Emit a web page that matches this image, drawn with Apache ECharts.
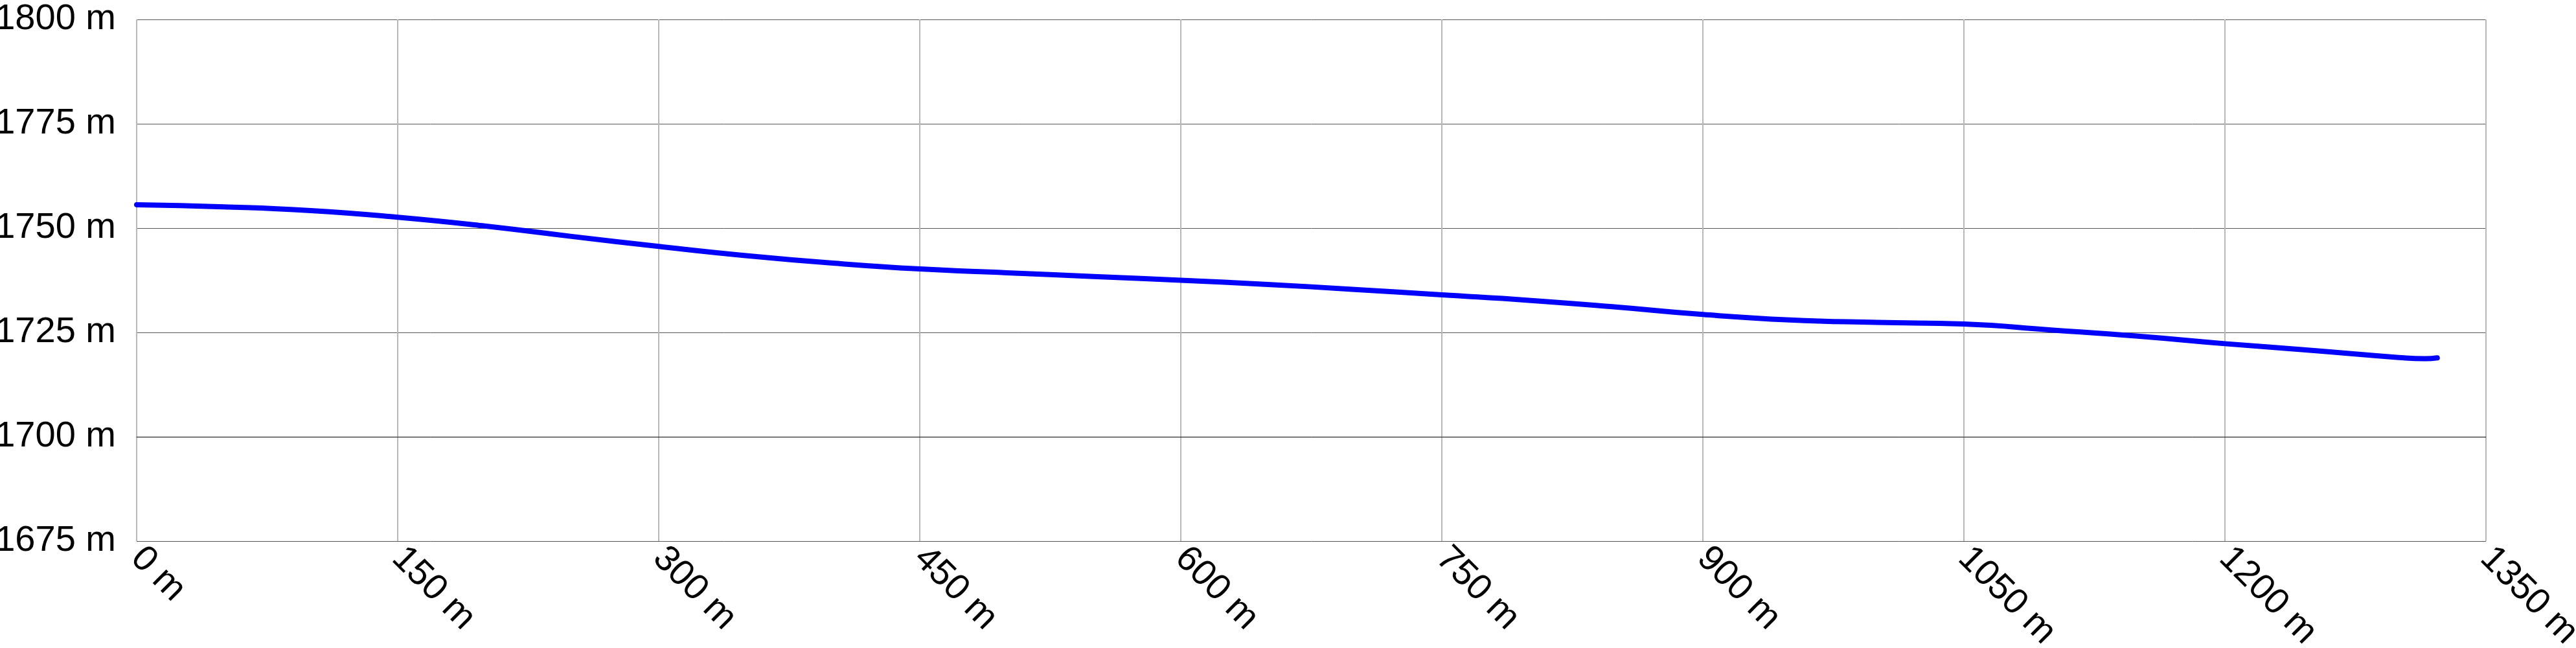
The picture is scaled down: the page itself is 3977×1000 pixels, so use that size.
<!DOCTYPE html>
<html>
<head>
<meta charset="utf-8">
<script src="https://cdn.jsdelivr.net/npm/echarts@6/dist/echarts.min.js"></script>
<style>
html,body{margin:0;padding:0;background:#fff;}
#chart{width:3977px;height:1000px;}
</style>
</head>
<body>
<div id="chart"></div>
<script>
// Distance along route (m)
const distances = [0, 50, 100, 150, 200, 250, 300, 350, 400, 450, 500, 550, 600, 650, 700, 750, 800, 850, 900, 950, 1000, 1050, 1100, 1150, 1200, 1250, 1300, 1315, 1322];
// Elevation (m)
const elevations = [1755.6, 1755.1, 1754.2, 1752.6, 1750.5, 1748.0, 1745.6, 1743.4, 1741.6, 1740.2, 1739.3, 1738.4, 1737.5, 1736.5, 1735.3, 1734.0, 1732.7, 1731.1, 1729.3, 1728.0, 1727.4, 1727.0, 1725.6, 1724.1, 1722.3, 1720.7, 1719.0, 1718.7, 1718.9];
// Axis ticks
const xTicks = [0, 150, 300, 450, 600, 750, 900, 1050, 1200, 1350];
const yTicks = [1675, 1700, 1725, 1750, 1775, 1800];
const darkLine = 1700;

const points = distances.map((d, i) => [d, elevations[i]]);
const fmt = v => String(Math.round(v)) + ' m';

const chart = echarts.init(document.getElementById('chart'), null, {renderer: 'canvas'});
chart.setOption({
  animation: false,
  backgroundColor: '#ffffff',
  grid: {left: 211, right: 139, top: 30, bottom: 165, containLabel: false, outerBoundsMode: 'none'},
  xAxis: {
    type: 'value',
    min: xTicks[0],
    max: xTicks[xTicks.length - 1],
    interval: xTicks[1] - xTicks[0],
    axisLine: {show: false},
    axisTick: {show: false},
    splitLine: {show: true, showMinLine: true, showMaxLine: true, lineStyle: {color: '#b8b8b8', width: 2}},
    axisLabel: {
      formatter: fmt,
      rotate: -45,
      margin: 18,
      fontSize: 56,
      color: '#000',
      fontFamily: '"Liberation Sans", Arial, sans-serif',
      showMinLabel: true,
      showMaxLabel: true,
      hideOverlap: false
    }
  },
  yAxis: {
    type: 'value',
    min: yTicks[0],
    max: yTicks[yTicks.length - 1],
    interval: yTicks[1] - yTicks[0],
    axisLine: {show: false},
    axisTick: {show: false},
    splitLine: {show: true, showMinLine: true, showMaxLine: true, lineStyle: {color: '#555555', width: 1}},
    axisLabel: {
      formatter: fmt,
      margin: 32,
      fontSize: 56,
      color: '#000',
      fontFamily: '"Liberation Sans", Arial, sans-serif',
      padding: [0, 0, 20, 0],
      showMinLabel: true,
      showMaxLabel: true
    }
  },
  series: [{
    type: 'line',
    data: points,
    smooth: true,
    showSymbol: false,
    z: 3,
    lineStyle: {color: '#0000ff', width: 8, cap: 'round', join: 'round'},
    markLine: {
      silent: true,
      symbol: ['none', 'none'],
      label: {show: false},
      z: 1,
      lineStyle: {color: '#000000', width: 1, type: 'solid'},
      data: [{yAxis: darkLine}]
    }
  }]
});
</script>
</body>
</html>
